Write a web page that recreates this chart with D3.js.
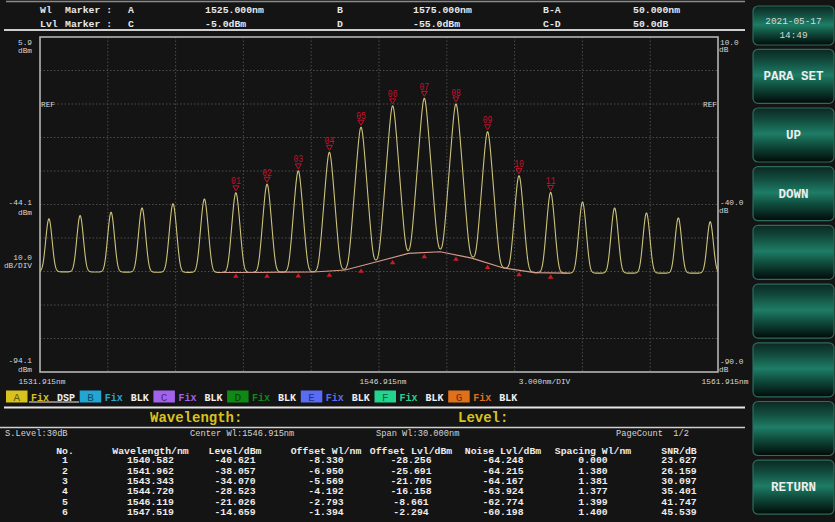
<!DOCTYPE html>
<html>
<head>
<meta charset="utf-8">
<script src="https://cdn.jsdelivr.net/npm/d3@7"></script>
<style>
  body { margin: 0; background: #141414; overflow: hidden; }
  text { font-family: "Liberation Mono", "DejaVu Sans Mono", monospace; }
</style>
</head>
<body>
<svg id="osa"></svg>
<script>
// ---- data ----
const wlDomain = [1531.915, 1561.915];
const lvlDomain = [-94.1, 5.9];
const relDomain = [-90.0, 10.0];

const peakWl = [1532.31, 1533.69, 1535.06, 1536.43, 1537.80, 1539.19,
    1540.582, 1541.962, 1543.343, 1544.720, 1546.119, 1547.519,
    1548.92, 1550.32, 1551.72, 1553.11, 1554.51,
    1555.92, 1557.34, 1558.75, 1560.16, 1561.57];
const peakLvl = [-48.5, -47.5, -46.5, -45.2, -43.9, -42.5,
    -40.621, -38.057, -34.070, -28.523, -21.026, -14.659,
    -12.4, -14.1, -22.4, -35.5, -40.5,
    -43.4, -45.2, -46.7, -48.2, -49.4];
const peakTag = ["", "", "", "", "", "",
    "01", "02", "03", "04", "05", "06", "07", "08", "09", "10", "11",
    "", "", "", "", ""];

// valley (noise) points between channels
const floorWl = [1531.915, 1539.89, 1541.27, 1542.65, 1544.03, 1545.42, 1546.82,
    1548.22, 1549.62, 1551.02, 1552.42, 1553.81, 1555.22, 1561.915];
const floorLvl = [-64.2, -64.4, -64.4, -64.3, -64.25, -63.65, -61.2,
    -58.7, -58.2, -60.1, -63.05, -64.45, -64.6, -64.6];
const noiseLvl = [-64.248, -64.215, -64.167, -63.924, -62.774, -60.198,
    -58.45, -59.15, -61.6, -63.75, -64.5];

const headerRows = [
    ["Wl", "Marker :", "A", "1525.000nm", "B", "1575.000nm", "B-A", "50.000nm"],
    ["Lvl", "Marker :", "C", "-5.0dBm", "D", "-55.0dBm", "C-D", "50.0dB"]
];

const traceNames = ["A", "B", "C", "D", "E", "F", "G"];
const traceColors = ["#d8c21e", "#22a6d6", "#a262ee", "#0e8a14", "#5a6cf6", "#22d48e", "#e0701a"];
const traceState = ["DSP", "BLK", "BLK", "BLK", "BLK", "BLK", "BLK"];

const infoRow = ["S.Level:30dB", "Center Wl:1546.915nm", "Span Wl:30.000nm", "PageCount  1/2"];
const tableHead = ["No.", "Wavelength/nm", "Level/dBm", "Offset Wl/nm", "Offset Lvl/dBm", "Noise Lvl/dBm", "Spacing Wl/nm", "SNR/dB"];
const colNo = ["1", "2", "3", "4", "5", "6"];
const colWl = ["1540.582", "1541.962", "1543.343", "1544.720", "1546.119", "1547.519"];
const colLvl = ["-40.621", "-38.057", "-34.070", "-28.523", "-21.026", "-14.659"];
const colOffWl = ["-8.330", "-6.950", "-5.569", "-4.192", "-2.793", "-1.394"];
const colOffLvl = ["-28.256", "-25.691", "-21.705", "-16.158", "-8.661", "-2.294"];
const colNoise = ["-64.248", "-64.215", "-64.167", "-63.924", "-62.774", "-60.198"];
const colSpacing = ["0.000", "1.380", "1.381", "1.377", "1.399", "1.400"];
const colSnr = ["23.627", "26.159", "30.097", "35.401", "41.747", "45.539"];

const buttons = ["PARA SET", "UP", "DOWN", "", "", "", "", "RETURN"];

// ---- layout ----
const W = 835, H = 522;
const plot = { left: 40, right: 718, top: 37, bottom: 372 };

const svg = d3.select("#osa").attr("width", W).attr("height", H);
svg.append("rect").attr("width", W).attr("height", H).attr("fill", "#141414");

const x = d3.scaleLinear(wlDomain, [plot.left, plot.right]);
const y = d3.scaleLinear(lvlDomain, [plot.bottom, plot.top]);
const yRel = d3.scaleLinear(relDomain, [plot.bottom, plot.top]);

const defs = svg.append("defs");
defs.append("clipPath").attr("id", "clip")
    .append("rect")
    .attr("x", plot.left).attr("y", plot.top)
    .attr("width", plot.right - plot.left).attr("height", plot.bottom - plot.top);

const grad = defs.append("linearGradient").attr("id", "btn")
    .attr("x1", 0).attr("y1", 0).attr("x2", 0).attr("y2", 1);
grad.selectAll("stop")
    .data([[0, "#0b2823"], [0.22, "#124c3e"], [0.48, "#1e7d66"], [0.7, "#0f4b3c"], [1, "#020a08"]])
    .join("stop")
    .attr("offset", d => d[0])
    .attr("stop-color", d => d[1]);

// ---- header ----
svg.append("line").attr("x1", 6).attr("x2", 745).attr("y1", 1.5).attr("y2", 1.5)
    .attr("stroke", "#8a8a8a").attr("stroke-width", 1.5);
const headerX = [40, 65, 128, 205, 337, 413, 543, 633];
svg.append("g")
    .attr("fill", "#e8e8e8").attr("font-size", 9.8).attr("font-weight", "bold")
    .selectAll("g")
    .data(headerRows)
    .join("g")
    .attr("transform", (d, i) => `translate(0,${13 + i * 14})`)
    .selectAll("text")
    .data(d => d)
    .join("text")
    .attr("x", (d, i) => headerX[i])
    .text(d => d);
svg.append("line").attr("x1", 4).attr("x2", 745).attr("y1", 30).attr("y2", 30)
    .attr("stroke", "#cfcfcf").attr("stroke-width", 2);

// ---- plot frame and grid ----
const grid = svg.append("g")
    .attr("stroke", "#5a5a5a").attr("stroke-width", 0.8).attr("stroke-dasharray", "1.5,2");
grid.selectAll(".gx")
    .data(d3.range(1, 10).map(i => wlDomain[0] + i * 3))
    .join("line")
    .attr("x1", d => x(d)).attr("x2", d => x(d))
    .attr("y1", plot.top).attr("y2", plot.bottom);
grid.selectAll(".gy")
    .data(d3.range(1, 10).map(i => lvlDomain[1] - i * 10))
    .join("line")
    .attr("y1", d => y(d)).attr("y2", d => y(d))
    .attr("x1", plot.left).attr("x2", plot.right);

svg.append("rect")
    .attr("x", plot.left).attr("y", plot.top)
    .attr("width", plot.right - plot.left).attr("height", plot.bottom - plot.top)
    .attr("fill", "none").attr("stroke", "#b4b4b4").attr("stroke-width", 1.6);

// left / right scale labels: [value, value baseline offset, unit baseline offset]
const axisText = svg.append("g").attr("fill", "#d8d8d8").attr("font-size", 7.8);
const leftLabels = [[lvlDomain[1], 8, 15.5], [lvlDomain[1] - 50, 0.5, 10.5], [lvlDomain[0], -9, -0.5]];
leftLabels.forEach(([v, dv, du]) => {
    axisText.append("text").attr("x", 32).attr("y", y(v) + dv).attr("text-anchor", "end").text(v.toFixed(1));
    axisText.append("text").attr("x", 32).attr("y", y(v) + du).attr("text-anchor", "end").text("dBm");
});
axisText.append("text").attr("x", 32).attr("y", 259.5).attr("text-anchor", "end").text("10.0");
axisText.append("text").attr("x", 32).attr("y", 268).attr("text-anchor", "end").text("dB/DIV");
const rightLabels = [[relDomain[1], 7.5, 14.5], [relDomain[1] - 50, 0.5, 8.5], [relDomain[0], -8.5, 0]];
rightLabels.forEach(([v, dv, du]) => {
    axisText.append("text").attr("x", 720).attr("y", yRel(v) + dv).text(v.toFixed(1));
    axisText.append("text").attr("x", 719).attr("y", yRel(v) + du).text("dB");
});
axisText.append("text").attr("x", plot.left + 1).attr("y", y(-14.1) + 3).text("REF");
axisText.append("text").attr("x", plot.right - 1).attr("y", y(-14.1) + 3).attr("text-anchor", "end").text("REF");

const xLabels = [
    [x(wlDomain[0]) + 2, "1531.915nm"],
    [x(wlDomain[0] + 15) + 4, "1546.915nm"],
    [x(wlDomain[0] + 22.5) - 4, "3.000nm/DIV"],
    [x(wlDomain[1]) + 7, "1561.915nm"]
];
axisText.selectAll(".xl")
    .data(xLabels)
    .join("text")
    .attr("x", d => d[0]).attr("y", 384)
    .attr("text-anchor", "middle")
    .text(d => d[1]);

// ---- spectrum trace ----
const floor = d3.scaleLinear(floorWl, floorLvl).clamp(true);
const lineShape = 0.1; // sech^2 filter width, nm
const samples = d3.range(wlDomain[0], wlDomain[1] + 0.005, 0.01);
const trace = samples.map(l => {
    let p = Math.pow(10, floor(l) / 10);
    peakWl.forEach((c, i) => {
        const d = (l - c) / lineShape;
        if (Math.abs(d) < 30) {
            const s = 1 / Math.cosh(d);
            p += Math.pow(10, peakLvl[i] / 10) * s * s;
        }
    });
    return [l, 10 * Math.log10(p)];
});

const plotG = svg.append("g").attr("clip-path", "url(#clip)");

plotG.append("path")
    .datum(trace)
    .attr("fill", "none")
    .attr("stroke", "#cdc37a")
    .attr("stroke-width", 1.1)
    .attr("d", d3.line().x(d => x(d[0])).y(d => y(d[1])));

// noise interpolation line
plotG.append("path")
    .datum(floorWl.slice(1, -1).map((w, i) => [w, floorLvl[i + 1]]))
    .attr("fill", "none")
    .attr("stroke", "#d49a8c")
    .attr("stroke-width", 1.2)
    .attr("d", d3.line().x(d => x(d[0])).y(d => y(d[1])));

// channel markers
const tagged = peakWl.map((w, i) => ({ w, lvl: peakLvl[i], tag: peakTag[i] })).filter(d => d.tag);
tagged.forEach((d, i) => { d.noise = noiseLvl[i]; });

plotG.append("g")
    .attr("fill", "#d01a24")
    .selectAll("path")
    .data(tagged)
    .join("path")
    .attr("d", d => `M${x(d.w)},${y(d.noise) + 1.5}l2.8,4.3h-5.6z`);

const tags = svg.append("g").attr("fill", "#c8102a").attr("font-size", 11.5)
    .selectAll("g")
    .data(tagged)
    .join("g")
    .attr("transform", d => `translate(${x(d.w)},${y(d.lvl)})`);
tags.append("text")
    .attr("transform", "translate(0,-8.5) scale(0.7,1)")
    .attr("text-anchor", "middle")
    .attr("font-family", "DejaVu Sans")
    .text(d => d.tag);
tags.append("path")
    .attr("d", "M-3,-7h6l-3,5z")
    .attr("fill", "none").attr("stroke", "#c8102a").attr("stroke-width", 1);

// ---- trace legend ----
const legend = svg.append("g").attr("font-size", 10).attr("font-weight", "bold")
    .selectAll("g")
    .data(traceNames)
    .join("g")
    .attr("transform", (d, i) => `translate(${6 + i * 73.7},390.5)`);
legend.append("rect")
    .attr("width", 21.5).attr("height", 12)
    .attr("fill", (d, i) => traceColors[i]);
legend.append("text")
    .attr("x", 10.75).attr("y", 10).attr("text-anchor", "middle")
    .attr("font-size", 11).attr("font-weight", "normal")
    .attr("font-family", "Liberation Serif")
    .attr("fill", (d, i) => d3.color(traceColors[i]).darker(2.2))
    .text(d => d);
legend.append("text")
    .attr("x", 25).attr("y", 10)
    .attr("fill", (d, i) => traceColors[i])
    .text("Fix");
legend.append("text")
    .attr("x", 51).attr("y", 10)
    .attr("fill", "#f0f0f0")
    .text((d, i) => traceState[i]);
svg.append("line").attr("x1", 29).attr("x2", 79).attr("y1", 402).attr("y2", 402)
    .attr("stroke", "#f0f0f0").attr("stroke-width", 1);

svg.append("line").attr("x1", 4).attr("x2", 745).attr("y1", 407.5).attr("y2", 407.5)
    .attr("stroke", "#e6e6e6").attr("stroke-width", 2);
svg.append("text").attr("x", 150).attr("y", 421.5)
    .attr("font-size", 14).attr("font-weight", "bold").attr("fill", "#d8c21e")
    .text("Wavelength:");
svg.append("text").attr("x", 458).attr("y", 421.5)
    .attr("font-size", 14).attr("font-weight", "bold").attr("fill", "#d8c21e")
    .text("Level:");
svg.append("line").attr("x1", 0).attr("x2", 745).attr("y1", 427.5).attr("y2", 427.5)
    .attr("stroke", "#cfcfcf").attr("stroke-width", 1.6);

// ---- peak table ----
const infoX = [5, 190, 376, 616];
svg.append("g").attr("font-size", 8.7).attr("fill", "#d4d4d4")
    .selectAll("text")
    .data(infoRow)
    .join("text")
    .attr("x", (d, i) => infoX[i]).attr("y", 435.5)
    .attr("xml:space", "preserve")
    .text(d => d);

const colX = [65, 150.5, 235, 326, 411, 503, 593, 679];
const columns = [colNo, colWl, colLvl, colOffWl, colOffLvl, colNoise, colSpacing, colSnr];
const table = svg.append("g").attr("font-size", 9.8).attr("font-weight", "bold")
    .attr("fill", "#ececec").attr("text-anchor", "middle");
table.selectAll(".th")
    .data(tableHead)
    .join("text")
    .attr("x", (d, i) => colX[i]).attr("y", 453.5)
    .text(d => d);
columns.forEach((col, c) => {
    table.append("g").selectAll("text")
        .data(col)
        .join("text")
        .attr("x", colX[c]).attr("y", (d, r) => 463.3 + r * 10.3)
        .text(d => d);
});

// ---- soft keys ----
const keyX = 753, keyW = 81;
const date = svg.append("g");
date.append("rect").attr("x", keyX).attr("y", 6).attr("width", keyW).attr("height", 39)
    .attr("rx", 5).attr("fill", "url(#btn)").attr("stroke", "#2d6b5b").attr("stroke-width", 1.2);
date.append("text").attr("x", keyX + keyW / 2).attr("y", 24).attr("text-anchor", "middle")
    .attr("font-size", 9.4).attr("fill", "#d8d8d8").text("2021-05-17");
date.append("text").attr("x", keyX + keyW / 2).attr("y", 37.5).attr("text-anchor", "middle")
    .attr("font-size", 9.4).attr("fill", "#d8d8d8").text("14:49");

const keys = svg.append("g")
    .selectAll("g")
    .data(buttons)
    .join("g")
    .attr("transform", (d, i) => `translate(${keyX},${49.3 + i * 58.7})`);
keys.append("rect")
    .attr("width", keyW).attr("height", 54).attr("rx", 5)
    .attr("fill", "url(#btn)").attr("stroke", "#2d6b5b").attr("stroke-width", 1.2);
keys.append("text")
    .attr("x", keyW / 2).attr("y", 31)
    .attr("text-anchor", "middle")
    .attr("font-family", "Liberation Serif")
    .attr("font-size", 12.5).attr("font-weight", "bold")
    .attr("fill", "#eeeeee")
    .text(d => d);
</script>
</body>
</html>
